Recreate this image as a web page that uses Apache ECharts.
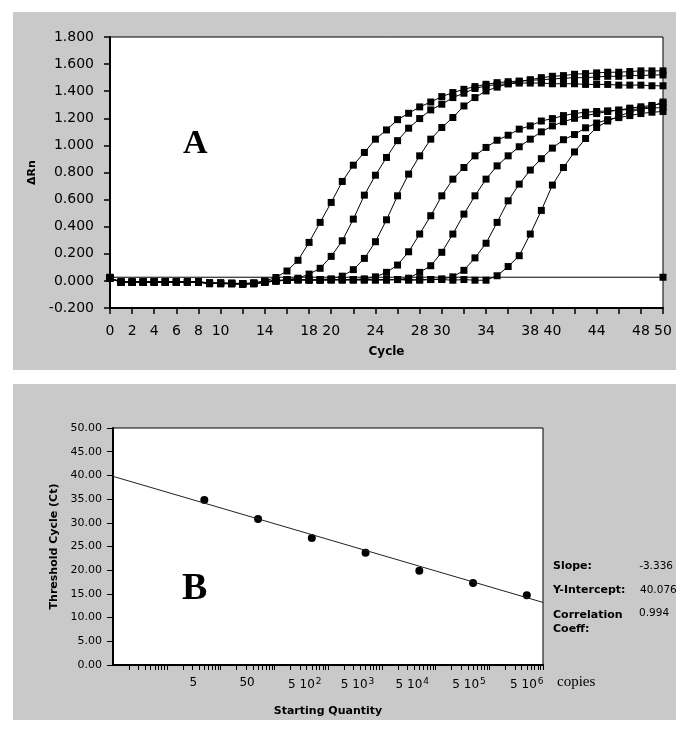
<!DOCTYPE html>
<html>
<head>
<meta charset="utf-8">
<script src="https://cdn.jsdelivr.net/npm/echarts@6/dist/echarts.min.js"></script>
<style>
  html, body { margin: 0; padding: 0; background: #fff; }
  #wrap { position: relative; width: 689px; height: 738px; }
  .panel { position: absolute; background: #c9c9c9; }
  #chart { position: absolute; left: 0; top: 0; width: 689px; height: 738px; }
</style>
</head>
<body>
<div id="wrap">
  <div class="panel" style="left:13px;top:12px;width:663px;height:358px"></div>
  <div class="panel" style="left:13px;top:384px;width:663px;height:336px"></div>
  <div id="chart"></div>
</div>
<script>
// ---- panel A: amplification plot (delta Rn per cycle) ----
const cycles = [0, 1, 2, 3, 4, 5, 6, 7, 8, 9, 10, 11, 12, 13, 14, 15, 16, 17, 18, 19, 20,
  21, 22, 23, 24, 25, 26, 27, 28, 29, 30, 31, 32, 33, 34, 35, 36, 37, 38, 39, 40,
  41, 42, 43, 44, 45, 46, 47, 48, 49, 50]

const run1 = [0.02, -0.01, -0.01, -0.005, -0.01, -0.01, -0.005, -0.005, -0.01, -0.02, -0.015,
  -0.02, -0.02, -0.015, 0.0, 0.025, 0.073, 0.152, 0.284, 0.432, 0.579,
  0.734, 0.854, 0.948, 1.046, 1.114, 1.19, 1.237, 1.284, 1.32, 1.36,
  1.39, 1.414, 1.434, 1.451, 1.463, 1.47, 1.475, 1.48, 1.485, 1.49,
  1.495, 1.5, 1.5, 1.505, 1.51, 1.51, 1.515, 1.515, 1.52, 1.52]
const run2 = [0.02, -0.005, -0.01, -0.01, -0.005, -0.01, -0.01, -0.01, -0.005, -0.015, -0.02,
  -0.015, -0.02, -0.02, -0.01, 0.0, 0.01, 0.02, 0.05, 0.093, 0.181,
  0.296, 0.456, 0.633, 0.78, 0.911, 1.035, 1.127, 1.198, 1.262, 1.304,
  1.353, 1.385, 1.42, 1.439, 1.45, 1.455, 1.46, 1.46, 1.46, 1.455,
  1.455, 1.455, 1.45, 1.45, 1.45, 1.445, 1.445, 1.445, 1.44, 1.44]
const run3 = [0.02, -0.01, -0.005, -0.01, -0.01, -0.005, -0.01, -0.01, -0.01, -0.015, -0.02,
  -0.02, -0.025, -0.02, -0.005, 0.005, 0.005, 0.01, 0.005, 0.01, 0.015,
  0.035, 0.083, 0.166, 0.289, 0.451, 0.628, 0.788, 0.923, 1.046, 1.132,
  1.206, 1.291, 1.353, 1.402, 1.43, 1.455, 1.47, 1.485, 1.5, 1.51,
  1.515, 1.525, 1.53, 1.535, 1.54, 1.54, 1.545, 1.55, 1.55, 1.55]
const run4 = [0.02, -0.01, -0.01, -0.01, -0.005, -0.01, -0.01, -0.005, -0.01, -0.02, -0.015,
  -0.02, -0.02, -0.02, -0.01, 0.0, 0.005, 0.01, 0.01, 0.005, 0.01,
  0.01, 0.01, 0.015, 0.03, 0.063, 0.117, 0.215, 0.346, 0.481, 0.628,
  0.751, 0.837, 0.923, 0.985, 1.038, 1.075, 1.12, 1.144, 1.18, 1.198,
  1.22, 1.235, 1.245, 1.25, 1.255, 1.26, 1.265, 1.27, 1.275, 1.28]
const run5 = [0.02, -0.01, -0.01, -0.005, -0.01, -0.01, -0.005, -0.01, -0.01, -0.015, -0.02,
  -0.02, -0.02, -0.015, -0.005, 0.0, 0.005, 0.005, 0.01, 0.01, 0.005,
  0.01, 0.01, 0.005, 0.01, 0.01, 0.01, 0.02, 0.063, 0.112, 0.211,
  0.346, 0.493, 0.628, 0.751, 0.849, 0.923, 0.99, 1.046, 1.1, 1.144,
  1.175, 1.2, 1.22, 1.235, 1.25, 1.26, 1.275, 1.285, 1.295, 1.31]
const run6 = [0.02, -0.01, -0.01, -0.01, -0.01, -0.005, -0.01, -0.01, -0.005, -0.02, -0.015,
  -0.02, -0.025, -0.02, -0.01, 0.0, 0.005, 0.01, 0.005, 0.01, 0.01,
  0.005, 0.01, 0.01, 0.005, 0.01, 0.01, 0.005, 0.01, 0.01, 0.015,
  0.03, 0.078, 0.17, 0.278, 0.432, 0.591, 0.714, 0.818, 0.902, 0.98,
  1.042, 1.08, 1.13, 1.165, 1.19, 1.205, 1.22, 1.235, 1.245, 1.25]
const run7 = [0.02, -0.01, -0.01, -0.01, -0.005, -0.01, -0.01, -0.01, -0.01, -0.015, -0.02,
  -0.02, -0.02, -0.02, -0.01, 0.0, 0.005, 0.01, 0.01, 0.005, 0.01,
  0.01, 0.005, 0.01, 0.01, 0.005, 0.01, 0.01, 0.005, 0.01, 0.01,
  0.005, 0.01, 0.005, 0.005, 0.038, 0.106, 0.186, 0.346, 0.52, 0.707,
  0.837, 0.952, 1.051, 1.132, 1.18, 1.215, 1.245, 1.27, 1.29, 1.32]
const runs = [run1, run2, run3, run4, run5, run6, run7]

const thresholdCycles = [0, 50]
const thresholdLevel = [0.027, 0.027]

// only these cycle numbers are printed under the ticks
const cycleLabels = [0, 2, 4, 6, 8, 10, 14, 18, 20, 24, 28, 30, 34, 38, 40, 44, 48, 50]

// ---- panel B: standard curve ----
const quantities = [5, 50, 500, 5000, 50000, 500000, 5000000]
const ctValues = [34.8, 30.8, 26.8, 23.7, 19.9, 17.3, 14.7]
const fitQuantity = [0.1, 10000000]
const fitCt = [39.8, 13.2]
const quantityLabels = [5, 50, 500, 5000, 50000, 500000, 5000000]
const decades = [0.1, 1, 10, 100, 1000, 10000, 100000, 1000000]
const decadeSteps = [2, 3, 4, 5, 6, 7, 8, 9, 10]
const quantityTicks = decades.flatMap((d) => decadeSteps.map((m) => +(d * m).toPrecision(3)))

const statNames = ['Slope:', 'Y-Intercept:', 'Correlation\nCoeff:']
const statValues = ['-3.336', '40.076', '0.994']

// the printed labels sit a little left of their decade, as in the original
const labelNudge = [22, 22, 14, 16, 14, 8, 0]

const labelFont = 'DejaVu Sans'
const boldFont = 'DejaVu Sans'

const chart = echarts.init(document.getElementById('chart'), null, { renderer: 'canvas' })

const runSeries = runs.map((run, i) => ({
  name: 'run' + (i + 1),
  type: 'line',
  xAxisIndex: 0,
  yAxisIndex: 0,
  data: cycles.map((c, k) => [c, run[k]]),
  symbol: 'rect',
  symbolSize: 7,
  showAllSymbol: true,
  lineStyle: { color: '#000', width: 1 },
  itemStyle: { color: '#000' },
}))

// rich styles for the "5 10^n" labels
const quantityRich = {
  m: { fontFamily: labelFont, fontSize: 12, color: '#000' },
}
labelNudge.forEach((pad, i) => {
  quantityRich['q' + i] = { fontFamily: labelFont, fontSize: 12, color: '#000', padding: [0, pad, 0, 0] }
  quantityRich['s' + i] = { fontFamily: labelFont, fontSize: 9, color: '#000', padding: [0, pad, 7, 1] }
})

const quantityFormatter = (v) => {
  const i = quantityLabels.findIndex((q) => Math.abs(q - v) / q < 1e-6)
  const e = Math.round(Math.log10(v / 5))
  if (e < 2) return '{q' + i + '|' + v + '}'
  return '{m|5 10}{s' + i + '|' + e + '}'
}

const option = {
  animation: false,
  backgroundColor: 'transparent',
  grid: [
    { left: 110, top: 37, width: 553, height: 271, show: true, backgroundColor: '#fff', borderColor: '#000', borderWidth: 1 },
    { left: 113, top: 428, width: 430, height: 237, show: true, backgroundColor: '#fff', borderColor: '#000', borderWidth: 1 },
  ],
  xAxis: [
    {
      gridIndex: 0,
      type: 'value',
      min: 0,
      max: 50,
      interval: 2,
      name: 'Cycle',
      nameLocation: 'middle',
      nameGap: 38,
      nameTextStyle: { fontFamily: boldFont, fontWeight: 'bold', fontSize: 12, color: '#000' },
      axisLine: { onZero: false, lineStyle: { color: '#000', width: 2 } },
      axisTick: { length: 6, lineStyle: { color: '#000', width: 1.5 } },
      axisLabel: {
        fontFamily: labelFont,
        fontSize: 14,
        color: '#000',
        margin: 16,
        formatter: (v) => (cycleLabels.includes(v) ? String(v) : ''),
      },
      splitLine: { show: false },
    },
    {
      gridIndex: 1,
      type: 'log',
      logBase: 10,
      min: 0.1,
      max: 10000000,
      name: 'Starting Quantity',
      nameLocation: 'middle',
      nameGap: 41,
      nameTextStyle: { fontFamily: boldFont, fontWeight: 'bold', fontSize: 11, color: '#000' },
      axisLine: { onZero: false, lineStyle: { color: '#000', width: 2 } },
      axisTick: { length: 5, customValues: quantityTicks, lineStyle: { color: '#000', width: 1 } },
      axisLabel: {
        customValues: quantityLabels,
        fontFamily: labelFont,
        fontSize: 12,
        color: '#000',
        margin: 12,
        formatter: quantityFormatter,
        rich: quantityRich,
      },
      splitLine: { show: false },
      minorTick: { show: false },
    },
  ],
  yAxis: [
    {
      gridIndex: 0,
      type: 'value',
      min: -0.2,
      max: 1.8,
      interval: 0.2,
      name: 'ΔRn',
      nameLocation: 'middle',
      nameGap: 71,
      nameTextStyle: { fontFamily: boldFont, fontWeight: 'bold', fontSize: 11, color: '#000' },
      axisLine: { show: true, onZero: false, lineStyle: { color: '#000', width: 2 } },
      axisTick: { show: true, length: 6, lineStyle: { color: '#000', width: 1.5 } },
      axisLabel: {
        fontFamily: labelFont,
        fontSize: 14,
        color: '#000',
        margin: 16,
        formatter: (v) => (Math.abs(v) < 1e-9 ? '0.000' : v.toFixed(3)),
      },
      splitLine: { show: false },
    },
    {
      gridIndex: 1,
      type: 'value',
      min: 0,
      max: 50,
      interval: 5,
      name: 'Threshold Cycle (Ct)',
      nameLocation: 'middle',
      nameGap: 47,
      nameTextStyle: { fontFamily: boldFont, fontWeight: 'bold', fontSize: 11, color: '#000' },
      axisLine: { show: true, onZero: false, lineStyle: { color: '#000', width: 2 } },
      axisTick: { show: true, length: 6, lineStyle: { color: '#000', width: 1 } },
      axisLabel: {
        fontFamily: labelFont,
        fontSize: 11,
        color: '#000',
        margin: 11,
        formatter: (v) => v.toFixed(2),
      },
      splitLine: { show: false },
    },
  ],
  series: [
    ...runSeries,
    {
      name: 'threshold',
      type: 'line',
      xAxisIndex: 0,
      yAxisIndex: 0,
      data: thresholdCycles.map((c, k) => [c, thresholdLevel[k]]),
      symbol: 'rect',
      symbolSize: 7,
      lineStyle: { color: '#000', width: 1 },
      itemStyle: { color: '#000' },
    },
    {
      name: 'fit',
      type: 'line',
      xAxisIndex: 1,
      yAxisIndex: 1,
      data: fitQuantity.map((q, k) => [q, fitCt[k]]),
      symbol: 'none',
      lineStyle: { color: '#222', width: 1 },
    },
    {
      name: 'standards',
      type: 'scatter',
      xAxisIndex: 1,
      yAxisIndex: 1,
      data: quantities.map((q, k) => [q, ctValues[k]]),
      symbol: 'circle',
      symbolSize: 8,
      itemStyle: { color: '#000', opacity: 1 },
    },
  ],
  graphic: [
    { type: 'text', left: 183, top: 127, style: { text: 'A', font: 'bold 34px "Liberation Serif"', fill: '#000' } },
    { type: 'text', left: 182, top: 570, style: { text: 'B', font: 'bold 38px "Liberation Serif"', fill: '#000' } },
    { type: 'text', left: 557, top: 675, style: { text: 'copies', font: '15px "Liberation Serif"', fill: '#000' } },
    { type: 'text', left: 553, top: 561, style: { text: statNames[0], font: 'bold 11px "DejaVu Sans"', fill: '#000' } },
    { type: 'text', left: 553, top: 585, style: { text: statNames[1], font: 'bold 11px "DejaVu Sans"', fill: '#000' } },
    { type: 'text', left: 553, top: 608, style: { text: statNames[2], font: 'bold 11px "DejaVu Sans"', fill: '#000', lineHeight: 14 } },
    { type: 'text', right: 16, top: 561, style: { text: statValues[0], font: '10.5px "DejaVu Sans"', fill: '#000' } },
    { type: 'text', left: 640, top: 585, style: { text: statValues[1], font: '10.5px "DejaVu Sans"', fill: '#000' } },
    { type: 'text', left: 639, top: 608, style: { text: statValues[2], font: '10.5px "DejaVu Sans"', fill: '#000' } },
  ],
}

chart.setOption(option)
</script>
</body>
</html>
